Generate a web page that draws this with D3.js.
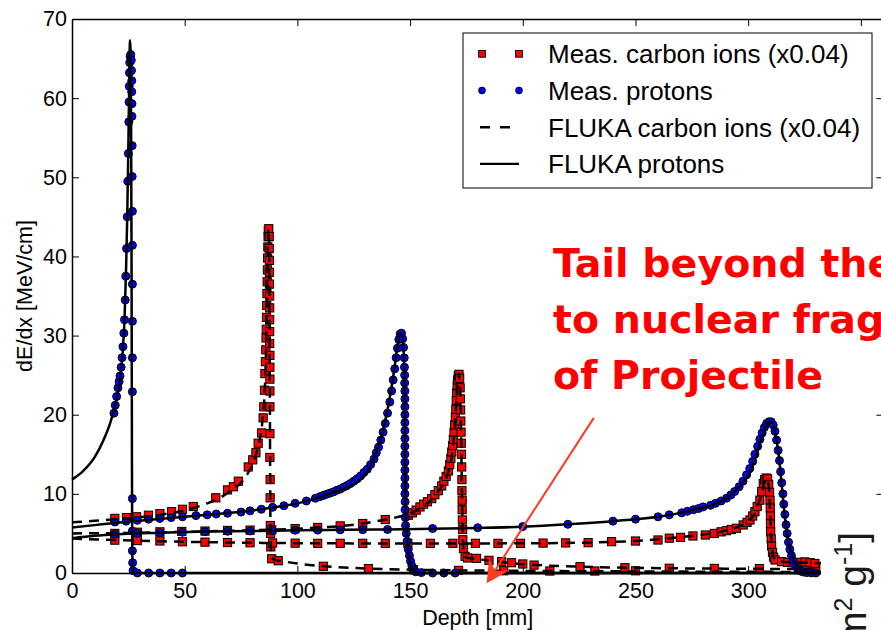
<!DOCTYPE html>
<html>
<head>
	<meta charset="utf-8" />
	<title>Bragg curves: protons and carbon ions</title>
	<script type="text/javascript" src="https://cdn.jsdelivr.net/npm/d3@7/dist/d3.min.js" charset="utf-8"></script>
	<style>
		body { margin: 0; background: #fff; }
		svg  { display: block; font-family: "Liberation Sans", Arial, sans-serif; }
	</style>
</head>
<body>

<svg id="chart" width="881" height="630"></svg>

<script type="text/javascript">
/* ticks and legend */
var xTicks = [0, 50, 100, 150, 200, 250, 300, 350];
var yTicks = [0, 10, 20, 30, 40, 50, 60, 70];
var legendLabels = ["Meas. carbon ions (x0.04)", "Meas. protons", "FLUKA carbon ions (x0.04)", "FLUKA protons"];
var noteLines = ["Tail beyond the", "to nuclear frag", "of Projectile"];

/* [depth mm, dE/dx MeV/cm] */
var flukaProton26 = [[0,11.8],[5,12.9],[10,14.6],[14,16.8],[17,19],[19,21],[20.5,23],[21.5,25],[22.5,28],[23.3,32],[24,38.5],[24.5,45],[24.9,52],[25.2,58],[25.5,64],[25.7,67.3],[26,66],[26.2,58],[26.4,42],[26.5,28],[26.6,14],[26.7,5],[26.9,0.8],[27.3,0],[333,0]];
var measProton26 = [[18.6,20.2],[19.2,21.2],[19.8,22.3],[20.4,23.4],[20.9,24.2],[21.3,24.9],[21.8,26],[22.2,27.2],[22.6,28.6],[23,30.3],[23.3,32],[23.6,34.5],[23.9,37.5],[24.2,41],[24.5,45],[24.8,49.5],[25,53],[25.2,57],[25.3,59.5],[25.4,61.5],[25.5,63.2],[25.6,64.5],[25.8,65.3],[26.1,65.5],[26.3,64.8],[26.4,63.5],[26.5,62.2],[26.5,60.8],[26.6,59.3],[26.6,57.7],[26.7,54],[26.7,50.1],[26.8,45.7],[26.8,41.4],[26.8,36.5],[26.8,31.8],[26.8,27.2],[26.8,22.9],[26.8,9.4],[26.8,5.3],[26.8,2.8],[26.9,1.3],[27.1,0.3],[29,0],[34,0],[39,0],[44,0],[49,0]];

var flukaProton146 = [[0,5.75],[10,6.05],[20,6.35],[30,6.6],[40,6.85],[50,7.1],[60,7.35],[70,7.6],[80,7.9],[90,8.3],[100,8.8],[105,9.15],[110,9.6],[115,10.1],[120,10.6],[125,11.2],[128,11.8],[131,12.8],[134,14.5],[136.5,16.5],[139,19.3],[141,22.2],[142.5,24.8],[143.5,26.8],[144.5,28.9],[145.5,30.3],[146.3,30.3],[147,28.6],[147.4,26],[147.6,20],[147.8,13],[148,8.5],[148.5,5.2],[149.3,2.6],[150.3,0.9],[151.5,0.25],[153,0],[333,0]];
var measProton146 = [[19,6.45],[24,6.55],[29,6.65],[34,6.8],[39,6.9],[44,7.0],[49,7.1],[55,7.25],[60,7.35],[64,7.45],[69,7.55],[75,7.7],[79,7.85],[84,8.05],[89,8.3],[94,8.5],[99,8.8],[104,9.1],[108,9.45],[110,9.65],[111.5,9.8],[113,9.95],[114.5,10.1],[116,10.25],[117.5,10.45],[119,10.6],[120.5,10.85],[122,11.05],[123.5,11.3],[125,11.6],[126.5,11.9],[128,12.25],[129.5,12.7],[131,13.1],[132.5,13.7],[134,14.4],[135,15.2],[136,15.9],[137,16.8],[138,17.8],[139,18.9],[140,20.2],[141,21.6],[141.8,23],[142.5,24.4],[143.2,25.8],[143.8,27.2],[144.4,28.4],[145,29.5],[145.6,30.2],[146.2,30.3],[146.7,29.6],[147.1,28.5],[147.4,27.2],[147.5,26],[147.6,25],[147.6,24],[147.7,23],[147.7,22],[147.7,21],[147.7,20],[147.7,19],[147.7,18],[147.7,17],[147.7,16],[147.7,15],[147.7,14],[147.7,13],[147.7,12],[147.7,11],[147.7,10],[147.8,9],[147.8,8],[147.9,7],[148,6],[148.3,5],[148.7,4],[149.2,3],[149.7,2.2],[150.2,1.5],[150.8,0.9],[151.5,0.4],[152.5,0.15],[155,0.05],[160,0],[165,0],[170,0]];

var flukaProton310 = [[0,4.4],[10,4.7],[20,4.9],[40,5.1],[60,5.25],[80,5.3],[100,5.4],[120,5.45],[140,5.5],[160,5.6],[180,5.7],[200,5.85],[220,6.15],[240,6.55],[260,7.1],[270,7.6],[276,8.0],[284.5,8.65],[290,9.4],[294,10.3],[298,11.5],[301,12.8],[303.5,14.8],[305.5,16.6],[307.5,18.3],[309.5,19.1],[311,18.7],[312.3,17.2],[313.3,15.5],[314.8,11.4],[316.3,7],[317.7,4.2],[319.5,2.1],[321.5,0.9],[323.5,0.3],[327,0.05],[333,0]];
var measProton310 = [[19,4.9],[29,5.0],[39,5.1],[49,5.15],[59,5.22],[69,5.28],[79,5.3],[89,5.35],[99,5.4],[109,5.42],[119,5.45],[129,5.48],[140,5.5],[160,5.62],[180,5.72],[200,5.87],[220,6.15],[240,6.55],[250,6.8],[260,7.1],[265,7.35],[270.5,7.6],[273,7.8],[275.7,8.0],[278,8.15],[280,8.35],[283.3,8.55],[285.5,8.8],[288,9.1],[290.4,9.45],[292.3,9.85],[294,10.3],[296,10.9],[297.7,11.6],[299.3,12.4],[300.7,13.2],[302,14.1],[303,15],[304.2,16],[305.2,16.9],[306.2,17.7],[307.2,18.4],[308.2,18.9],[309.2,19.1],[310.2,19.1],[311.1,18.7],[311.9,17.9],[312.6,16.8],[313.3,15.5],[313.9,14.2],[314.4,12.8],[314.9,11.4],[315.4,10],[315.8,8.7],[316.3,7.4],[316.8,6.1],[317.3,5],[317.9,3.9],[318.5,3],[319.2,2.2],[320,1.5],[321,0.9],[322,0.5],[323.2,0.25],[324.5,0.12],[326,0.05],[328,0.02],[330,0]];

/* carbon, already scaled by 0.04 */
var flukaCarbon87 = [[0,6.4],[10,6.6],[20,6.8],[30,7.05],[40,7.4],[50,7.9],[55,8.3],[60,8.8],[65,9.4],[70,10.3],[75,11.4],[78,12.6],[80,13.7],[82,15.3],[83.5,17.2],[84.5,19.2],[85.3,21.8],[85.9,26],[86.4,32],[86.8,39],[87.1,43.5],[87.4,42.5],[87.6,36],[87.75,25],[87.9,14],[88.05,6],[88.25,3],[88.6,1.9],[90,1.65],[93,1.5],[100,1.2],[112,0.85],[132,0.55],[150,0.42],[175,0.33],[200,0.27],[250,0.2],[300,0.15],[333,0.13]];
var measCarbon87 = [[19,6.9],[24.2,7.0],[28.7,7.1],[33.9,7.3],[39,7.5],[44.2,7.75],[49,8.05],[53.8,8.4],[63.8,9.5],[69,10.5],[71.6,10.9],[73.8,11.6],[78.2,13.4],[80.2,14.3],[81.6,15.2],[82.6,16.4],[84.1,17.7],[84.8,19.6],[85.1,21],[85.4,23.1],[85.6,25.2],[85.8,26.7],[86,28.2],[86.1,29.7],[86.2,30.8],[86.3,32.3],[86.4,33.8],[86.5,35.3],[86.6,36.8],[86.7,38.3],[86.8,39.8],[86.9,41.2],[87,42.5],[87.1,43.3],[87.3,43.5],[87.5,42.5],[87.5,41],[87.6,39.5],[87.6,38],[87.6,36.5],[87.7,35],[87.7,33.5],[87.7,32],[87.7,30.5],[87.7,29],[87.8,27.5],[87.8,26],[87.8,24.5],[87.8,23],[87.8,21],[87.8,17.6],[87.8,14.6],[87.9,11.8],[87.9,9.5],[88,6],[88.1,5],[88.2,3.3],[88.6,1.8],[91.5,1.55],[111.5,0.85],[131.5,0.55],[151.5,0.42],[171.5,0.33],[191.5,0.28],[212,0.25],[232,0.25],[250,0.28]];

var flukaCarbon171 = [[0,5.0],[20,5.05],[40,5.15],[60,5.27],[80,5.4],[100,5.6],[110,5.75],[120,5.95],[130,6.3],[140,6.8],[145,7.1],[150,7.5],[155,8.3],[160,9.4],[163,10.5],[165,11.4],[167,12.8],[168.5,14.8],[169.5,17.2],[170.3,20.5],[171,23.8],[171.6,25.2],[172.1,24.2],[172.5,19.5],[172.9,12.5],[173.2,7],[173.5,3.8],[174,2.4],[175,1.95],[180,1.75],[190,1.4],[200,1.12],[210,0.95],[225,0.8],[245,0.67],[265,0.6],[285,0.56],[310,0.52],[333,0.5]];
var measCarbon171 = [[19,5.0],[29,5.15],[39,5.2],[48.7,5.25],[59,5.3],[69,5.38],[79,5.42],[88.6,5.45],[99,5.6],[109,5.75],[119,5.95],[129,6.25],[139,6.75],[149.2,7.3],[151,7.6],[152.7,7.95],[154.4,8.35],[156,8.7],[157.7,9.0],[159.6,9.4],[161,9.9],[162.5,10.4],[164,11],[165,11.6],[166,12.2],[167,12.9],[167.6,13.7],[168.1,14.5],[168.5,15.3],[168.9,16.1],[169.2,16.9],[169.5,17.8],[169.8,18.7],[170.1,19.7],[170.3,20.7],[170.5,21.8],[170.7,22.8],[170.9,23.7],[171.1,24.4],[171.4,24.9],[171.7,25.1],[172,24.6],[172.2,23.4],[172.3,22],[172.4,20.6],[172.5,19.2],[172.6,17.8],[172.7,16.4],[172.8,15],[172.9,13.4],[173,11.8],[173,10.4],[173.1,9.2],[173.1,8],[173.2,6.7],[173.3,5.5],[173.4,4.2],[173.7,3.1],[174.4,2.1],[175.5,1.9],[179.5,1.85],[185,1.6],[190.6,1.43],[195,1.3],[200,1.14],[205,1.0],[225.4,0.8],[245.3,0.67],[265,0.6],[285,0.58],[305,0.56],[325.6,0.55],[330,0.55]];

var flukaCarbon308 = [[0,4.35],[20,4.15],[40,4.0],[60,3.9],[80,3.82],[100,3.77],[150,3.73],[200,3.75],[230,3.85],[250,4.05],[265,4.4],[280,4.85],[290,5.35],[296,5.9],[300,6.5],[303,7.6],[305.5,9.6],[307.3,11.5],[308.3,12],[309,11.3],[309.5,9.5],[309.9,6.5],[310.3,4],[310.9,2.4],[311.8,1.7],[313,1.5],[318,1.35],[325,1.3],[333,1.25]];
var measCarbon308 = [[19,4.15],[29,4.1],[39,4.05],[49,3.95],[59,3.9],[69,3.85],[79,3.82],[89,3.8],[99,3.77],[109,3.75],[119,3.75],[129,3.75],[139,3.75],[149,3.75],[159,3.75],[169,3.75],[179,3.75],[189,3.75],[199,3.75],[209,3.78],[219,3.8],[229,3.83],[239.4,3.96],[250,4.04],[260,4.17],[265,4.4],[270,4.5],[275.5,4.68],[281,4.8],[285,5.0],[288,5.2],[290.4,5.35],[292.5,5.5],[294.8,5.65],[297.8,6.07],[299.5,6.4],[300.8,6.7],[302,7.2],[303,7.75],[304,8.4],[305.2,9.2],[306,10.3],[306.7,11.3],[307.3,11.8],[308,12],[308.6,11.9],[309.1,11.2],[309.5,10.2],[309.7,9.2],[309.8,8.2],[309.9,7.2],[309.9,6.2],[310,5.2],[310.2,4.3],[310.4,3.4],[310.8,2.6],[311.3,2],[311.9,1.65],[314.8,1.43],[317.5,1.35],[320,1.3],[322.5,1.35],[325.2,1.4],[327.5,1.3],[329.6,1.2]];

/* arrow of the note, in data units: from, to */
var noteArrow = [[231.5, 19.6], [184, -1.3]];

var measCarbon  = [measCarbon87, measCarbon171, measCarbon308];
var measProton  = [measProton26, measProton146, measProton310];
var flukaCarbon = [flukaCarbon87, flukaCarbon171, flukaCarbon308];
var flukaProton = [flukaProton26, flukaProton146, flukaProton310];

(function drawChart() {
	var margin = { top: 19, bottom: 573, left: 72, right: 883.4 };
	var svg = d3.select("#chart");

	var x = d3.scaleLinear().domain([0, 360]).range([margin.left, margin.right]);
	var y = d3.scaleLinear().domain([0, 70]).range([margin.bottom, margin.top]);

	var sq = 8.2, dotR = 4;

	// measured points first, lines go on top of them
	var gSq = svg.append("g");
	measCarbon.forEach(function(serie) {
		gSq.selectAll(null).data(serie).enter().append("rect")
			.attr("x", function(d) { return x(d[0]) - sq / 2; })
			.attr("y", function(d) { return y(d[1]) - sq / 2; })
			.attr("width", sq)
			.attr("height", sq)
			.attr("fill", "#ff0000")
			.attr("stroke", "#000")
			.attr("stroke-width", 1);
	});

	var gDot = svg.append("g");
	measProton.forEach(function(serie) {
		gDot.selectAll(null).data(serie).enter().append("circle")
			.attr("cx", function(d) { return x(d[0]); })
			.attr("cy", function(d) { return y(d[1]); })
			.attr("r", dotR)
			.attr("fill", "#0000ff")
			.attr("stroke", "#000")
			.attr("stroke-width", 1);
	});

	var line = d3.line()
		.x(function(d) { return x(d[0]); })
		.y(function(d) { return y(d[1]); })
		.curve(d3.curveMonotoneX);

	flukaCarbon.forEach(function(serie) {
		svg.append("path").datum(serie)
			.attr("d", line)
			.attr("fill", "none")
			.attr("stroke", "#000")
			.attr("stroke-width", 2.5)
			.attr("stroke-dasharray", "10,7");
	});
	flukaProton.forEach(function(serie) {
		svg.append("path").datum(serie)
			.attr("d", line)
			.attr("fill", "none")
			.attr("stroke", "#000")
			.attr("stroke-width", 2.5);
	});

	/* axes, ticks inside like matplotlib */
	function styleAxis(g) {
		g.attr("font-family", null).attr("font-size", null);
		g.select(".domain").attr("stroke-width", 1.5);
		g.selectAll(".tick line").attr("stroke-width", 1);
		g.selectAll(".tick text").attr("font-size", 21.5).attr("fill", "#000");
	}
	svg.append("g").attr("transform", "translate(0," + margin.bottom + ")")
		.call(d3.axisBottom(x).tickValues(xTicks).tickSizeInner(-7).tickSizeOuter(0).tickPadding(10))
		.call(styleAxis);
	svg.append("g").attr("transform", "translate(" + margin.left + ",0)")
		.call(d3.axisLeft(y).tickValues(yTicks).tickSizeInner(-7).tickSizeOuter(0).tickPadding(5))
		.call(styleAxis);
	svg.append("g").attr("transform", "translate(0," + margin.top + ")")
		.call(d3.axisTop(x).tickValues(xTicks).tickSizeInner(-7).tickSizeOuter(0).tickFormat(""))
		.call(styleAxis);
	svg.append("g").attr("transform", "translate(" + margin.right + ",0)")
		.call(d3.axisRight(y).tickValues(yTicks).tickSizeInner(-7).tickSizeOuter(0).tickFormat(""))
		.call(styleAxis);

	svg.append("text")
		.attr("x", (margin.left + margin.right) / 2)
		.attr("y", 625)
		.attr("text-anchor", "middle")
		.attr("font-size", 21.5)
		.text("Depth [mm]");
	svg.append("text")
		.attr("transform", "translate(32," + (margin.top + margin.bottom) / 2 + ") rotate(-90)")
		.attr("text-anchor", "middle")
		.attr("font-size", 21.5)
		.text("dE/dx [MeV/cm]");

	/* legend */
	var lg = svg.append("g");
	lg.append("rect")
		.attr("x", 463).attr("y", 33)
		.attr("width", 409).attr("height", 155)
		.attr("fill", "#fff")
		.attr("stroke", "#000")
		.attr("stroke-width", 1);
	var rows = lg.selectAll("g.row").data(legendLabels).enter().append("g")
		.attr("class", "row")
		.attr("transform", function(d, i) { return "translate(0," + (63.3 + i * 36.7) + ")"; });
	rows.append("text")
		.attr("x", 548)
		.attr("font-size", 26)
		.text(function(d) { return d; });
	rows.filter(function(d, i) { return i === 0; }).selectAll("rect").data([482, 519]).enter().append("rect")
		.attr("x", function(d) { return d - 3.4; }).attr("y", -9.5 - 3.4)
		.attr("width", 6.8).attr("height", 6.8)
		.attr("fill", "#ff0000").attr("stroke", "#000").attr("stroke-width", 0.9);
	rows.filter(function(d, i) { return i === 1; }).selectAll("circle").data([482, 519]).enter().append("circle")
		.attr("cx", function(d) { return d; }).attr("cy", -9.5)
		.attr("r", 3.4)
		.attr("fill", "#0000ff").attr("stroke", "#000").attr("stroke-width", 0.9);
	rows.filter(function(d, i) { return i >= 2; }).append("line")
		.attr("x1", 480).attr("x2", 519)
		.attr("y1", -9.5).attr("y2", -9.5)
		.attr("stroke", "#000")
		.attr("stroke-width", 2.4)
		.attr("stroke-dasharray", function(d, i) { return i === 0 ? "10,10" : null; });

	/* red note and its arrow */
	svg.append("g").selectAll("text").data(noteLines).enter().append("text")
		.attr("x", 553)
		.attr("y", function(d, i) { return 277 + i * 56; })
		.attr("font-family", "'DejaVu Sans', Verdana, sans-serif")
		.attr("font-weight", "bold")
		.attr("font-size", 39.5)
		.attr("fill", "#ff0000")
		.text(function(d) { return d; });

	var a0 = [x(noteArrow[0][0]), y(noteArrow[0][1])],
	    a1 = [x(noteArrow[1][0]), y(noteArrow[1][1])];
	var dx = a1[0] - a0[0], dy = a1[1] - a0[1], len = Math.sqrt(dx * dx + dy * dy);
	var u = [dx / len, dy / len], n = [-u[1], u[0]];
	var headL = 23, headW = 12, notch = 15;
	svg.append("line")
		.attr("x1", a0[0]).attr("y1", a0[1])
		.attr("x2", a1[0] - u[0] * notch).attr("y2", a1[1] - u[1] * notch)
		.attr("stroke", "#ff3b1f")
		.attr("stroke-width", 2);
	svg.append("path")
		.attr("d", "M" + a1[0] + "," + a1[1] +
			"L" + (a1[0] - u[0] * headL + n[0] * headW) + "," + (a1[1] - u[1] * headL + n[1] * headW) +
			"L" + (a1[0] - u[0] * notch) + "," + (a1[1] - u[1] * notch) +
			"L" + (a1[0] - u[0] * headL - n[0] * headW) + "," + (a1[1] - u[1] * headL - n[1] * headW) + "Z")
		.attr("fill", "#ff3b1f");

	/* unit label of the chart lying under this one, cut by the frame */
	svg.append("rect")
		.attr("x", 821).attr("y", 522)
		.attr("width", 60).attr("height", 108)
		.attr("fill", "#fff");
	var unit = svg.append("text")
		.attr("transform", "translate(866,532) rotate(-90)")
		.attr("text-anchor", "end")
		.attr("font-size", 39)
		.attr("fill", "#1a1a1a");
	unit.append("tspan").text("[MeV cm");
	unit.append("tspan").attr("baseline-shift", "super").attr("font-size", 25).text("2");
	unit.append("tspan").text(" g");
	unit.append("tspan").attr("baseline-shift", "super").attr("font-size", 25).text("-1");
	unit.append("tspan").text("]");
})();
</script>
</body>
</html>
